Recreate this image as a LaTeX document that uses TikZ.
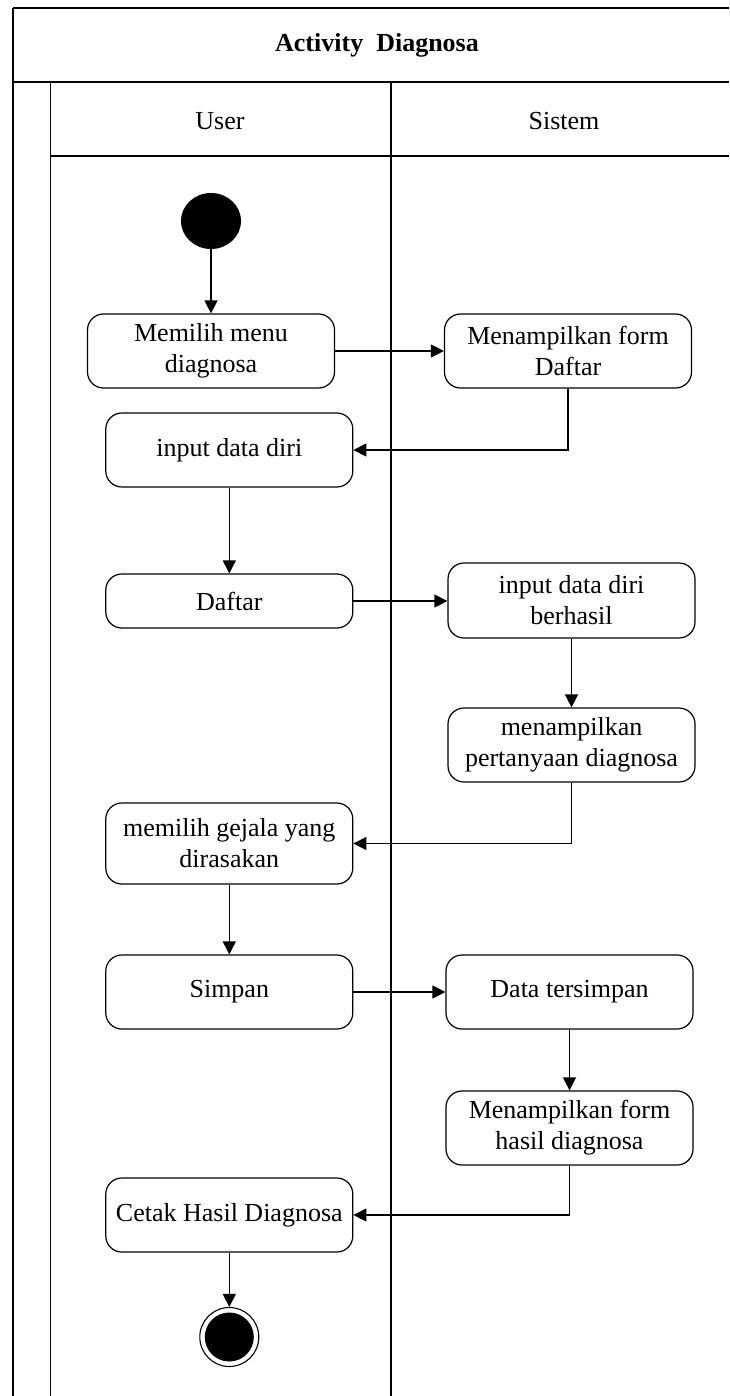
\documentclass[tikz,border=0pt]{standalone}
\usepackage{fontspec}
\setmainfont{Liberation Serif}
\usetikzlibrary{arrows.meta,shapes.geometric}
\begin{document}
\begin{tikzpicture}[x=1pt,y=-1pt,
  frame/.style={line width=1.6pt,black},
  act/.style={draw,line width=1.2pt,rounded corners=16pt,align=center,inner sep=0pt,
    minimum width=247pt,minimum height=74pt,font=\fontsize{26}{31}\selectfont},
  lbl/.style={font=\fontsize{26}{31}\selectfont},
  flow/.style={line width=1.3pt,-{Triangle[length=13pt,width=13pt]}}]
\useasboundingbox (0,0) rectangle (729,1396);
% frame
\draw[frame] (13,8) -- (729,8);
\draw[frame] (13,82) -- (729,82);
\draw[frame] (50.5,156) -- (729,156);
\draw[frame] (13,8) -- (13,1396);
\draw[frame] (50.5,82) -- (50.5,1396);
\draw[frame] (391,82) -- (391,1396);
% headers
\node[lbl,font=\fontsize{26}{31}\selectfont\bfseries] (title) at (377,45) {Activity\ \ Diagnosa};
\node[lbl] (user) at (220,121) {User};
\node[lbl] (sistem) at (564,121) {Sistem};
% start / end
\node[ellipse,fill=black,minimum width=60pt,minimum height=56pt,inner sep=0pt] (start) at (211,221) {};
\node[circle,draw,line width=1.1pt,minimum size=59pt,inner sep=0pt] (end) at (229.3,1337) {};
\node[circle,fill=black,minimum size=49pt,inner sep=0pt] (endin) at (229.3,1337) {};
% activities
\node[act] (m1) at (211,351) {Memilih menu\\diagnosa};
\node[act] (s1) at (568,351) {Menampilkan form\\Daftar};
\node[act] (u2) at (229.3,450) {input data diri};
\node[act,minimum height=54pt] (u3) at (229.3,601) {Daftar};
\node[act,minimum height=75pt] (s2) at (571.5,600.5) {input data diri\\berhasil};
\node[act] (s3) at (571.5,745) {menampilkan\\pertanyaan diagnosa};
\node[act,minimum height=81pt] (u4) at (229.3,843.5) {memilih gejala yang\\dirasakan};
\node[act] (u5) at (229.3,992) {Simpan};
\node[act] (s4) at (569.5,992) {Data tersimpan};
\node[act] (s5) at (569.5,1128) {Menampilkan form\\hasil diagnosa};
\node[act] (u6) at (229.3,1215) {Cetak Hasil Diagnosa};
% flows
\draw[flow] (start) -- (m1);
\draw[flow] (m1) -- (s1);
\draw[flow] (s1.south) |- (u2.east);
\draw[flow] (u2) -- (u3);
\draw[flow] (u3.east) -- (u3.east -| s2.west);
\draw[flow] (s2) -- (s3);
\draw[flow] (s3.south) |- (u4.east);
\draw[flow] (u4) -- (u5);
\draw[flow] (u5) -- (s4);
\draw[flow] (s4) -- (s5);
\draw[flow] (s5.south) |- (u6.east);
\draw[flow] (u6) -- (end);
\end{tikzpicture}
\end{document}
